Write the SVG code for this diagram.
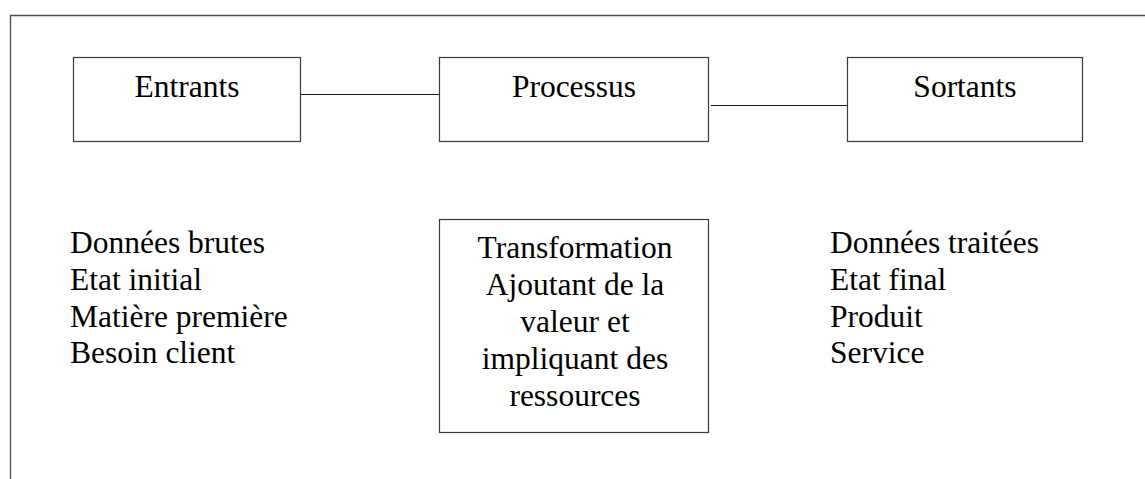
<svg xmlns="http://www.w3.org/2000/svg" width="1145" height="479" viewBox="0 0 1145 479">
  <style>
    .box { fill: #ffffff; stroke: #3a3a3a; stroke-width: 1.2; }
    .frame { fill: none; stroke: #4a4a4a; stroke-width: 1.3; }
    .link { fill: none; stroke: #1a1a1a; stroke-width: 1.2; }
    .lbl { font-family: "Liberation Serif", "Times New Roman", serif; font-size: 31.5px; fill: #000000; }
    .mid { text-anchor: middle; }
  </style>
  <rect width="1145" height="479" fill="#ffffff"/>

  <!-- page frame (top and left edges) -->
  <path class="frame" d="M10.5 479 V15.5 H1145"/>

  <!-- connectors between the three stages -->
  <g id="connectors">
    <line class="link" x1="301" y1="94.5" x2="440" y2="94.5"/>
    <line class="link" x1="711" y1="105.5" x2="848" y2="105.5"/>
  </g>

  <g id="entrants">
    <rect class="box" x="73.5" y="57.5" width="227" height="84"/>
    <text class="lbl mid" x="187" y="97">Entrants</text>
  </g>

  <g id="processus">
    <rect class="box" x="439.5" y="57.5" width="269" height="84"/>
    <text class="lbl mid" x="574" y="97">Processus</text>
  </g>

  <g id="sortants">
    <rect class="box" x="847.5" y="57.5" width="235" height="84"/>
    <text class="lbl mid" x="965" y="97">Sortants</text>
  </g>

  <g id="entrants-list">
    <text class="lbl" x="70" y="253">Données brutes</text>
    <text class="lbl" x="70" y="290">Etat initial</text>
    <text class="lbl" x="70" y="327">Matière première</text>
    <text class="lbl" x="70" y="363">Besoin client</text>
  </g>

  <g id="transformation">
    <rect class="box" x="439.5" y="219.5" width="269" height="213"/>
    <text class="lbl mid" x="575" y="258">Transformation</text>
    <text class="lbl mid" x="575" y="295">Ajoutant de la</text>
    <text class="lbl mid" x="575" y="332">valeur et</text>
    <text class="lbl mid" x="575" y="369">impliquant des</text>
    <text class="lbl mid" x="575" y="406">ressources</text>
  </g>

  <g id="sortants-list">
    <text class="lbl" x="830" y="253">Données traitées</text>
    <text class="lbl" x="830" y="290">Etat final</text>
    <text class="lbl" x="830" y="327">Produit</text>
    <text class="lbl" x="830" y="363">Service</text>
  </g>
</svg>
